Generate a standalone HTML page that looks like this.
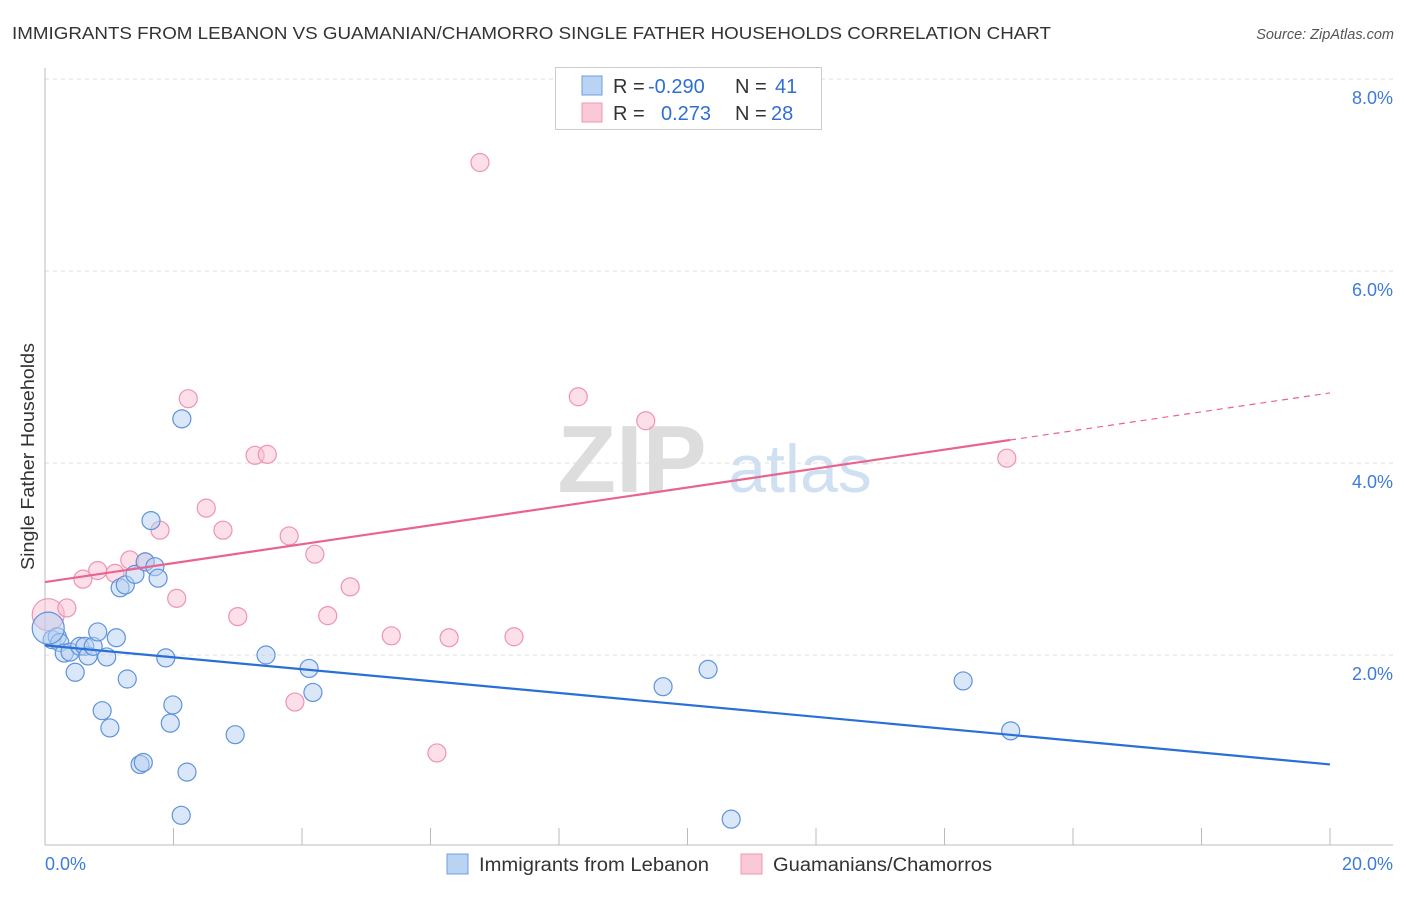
<!DOCTYPE html>
<html><head><meta charset="utf-8"><style>
body{margin:0;background:#fff;font-family:"Liberation Sans",sans-serif;}
svg text{font-family:"Liberation Sans",sans-serif;}
</style></head><body>
<svg id="c" width="1406" height="892">
<text x="12" y="39" font-size="17.5" fill="#333" textLength="1039" lengthAdjust="spacingAndGlyphs">IMMIGRANTS FROM LEBANON VS GUAMANIAN/CHAMORRO SINGLE FATHER HOUSEHOLDS CORRELATION CHART</text>
<text x="1394" y="39" font-size="14.5" fill="#555" font-style="italic" text-anchor="end">Source: ZipAtlas.com</text>
<text transform="translate(34,570) rotate(-90)" font-size="18" fill="#333" textLength="227" lengthAdjust="spacingAndGlyphs">Single Father Households</text>
<text x="632" y="492" font-size="96" fill="#ddd" font-family="Liberation Serif" font-weight="bold" text-anchor="middle">ZIP</text>
<text x="800" y="492" font-size="68" fill="#cfe0f3" text-anchor="middle">atlas</text>
<g id="grid"></g><g id="marks"></g>
<g>
<rect x="555.5" y="67.5" width="266" height="62" fill="#fff" stroke="#ccc"/>
<rect x="582" y="76" width="20" height="19" fill="#b9d3f3" stroke="#6e9de0"/>
<rect x="582" y="103" width="20" height="19" fill="#fac8d7" stroke="#ef9ab3"/>
<text x="613" y="93" font-size="20" fill="#333">R = <tspan x="648" fill="#2f6fd3">-0.290</tspan></text>
<text x="735" y="93" font-size="20" fill="#333">N = <tspan x="775" fill="#2f6fd3">41</tspan></text>
<text x="613" y="120" font-size="20" fill="#333">R = <tspan x="661" fill="#2f6fd3">0.273</tspan></text>
<text x="735" y="120" font-size="20" fill="#333">N = <tspan x="771" fill="#2f6fd3">28</tspan></text>
</g>
<g>
<rect x="447" y="854" width="21" height="20" fill="#b9d3f3" stroke="#6e9de0"/>
<text x="479" y="871" font-size="19" fill="#333" textLength="230" lengthAdjust="spacingAndGlyphs">Immigrants from Lebanon</text>
<rect x="741" y="854" width="21" height="20" fill="#fac8d7" stroke="#ef9ab3"/>
<text x="773" y="871" font-size="19" fill="#333" textLength="219" lengthAdjust="spacingAndGlyphs">Guamanians/Chamorros</text>
</g>
</svg>
<script>
const yTicks=[2,4,6,8];
const xTickLabels=["0.0%","20.0%"];
const blueX=[0.11,0.19,0.23,0.30,0.39,0.47,0.54,0.62,0.67,0.75,0.82,0.89,0.96,1.01,1.11,1.17,1.25,1.28,1.40,1.48,1.53,1.56,1.65,1.71,1.76,1.88,1.95,1.99,2.12,2.13,2.21,2.96,3.44,4.11,4.17,9.62,10.32,10.68,14.29,15.03,0.05];
const blueY=[2.16,2.19,2.13,2.02,2.03,1.82,2.09,2.09,1.99,2.09,2.24,1.42,1.98,1.24,2.18,2.70,2.73,1.75,2.84,0.86,0.88,2.97,3.40,2.92,2.80,1.97,1.29,1.48,0.33,4.46,0.78,1.17,2.00,1.86,1.61,1.67,1.85,0.29,1.73,1.21,2.28];
const pinkX=[0.05,0.34,0.59,0.82,1.09,1.32,1.56,1.79,2.05,2.23,2.51,2.77,3.00,3.27,3.46,3.80,4.20,4.40,4.75,5.39,6.29,6.10,6.77,7.30,8.30,9.35,14.97,3.89];
const pinkY=[2.42,2.49,2.79,2.88,2.85,2.99,2.97,3.30,2.59,4.67,3.53,3.30,2.40,4.08,4.09,3.24,3.05,2.41,2.71,2.20,2.18,0.98,7.13,2.19,4.69,4.44,4.05,1.51];
const blueFit=[2.10,0.86];
const pinkFit=[2.76,4.73];
const X=v=>45+v/20*1285, Y=v=>847-v*96;
const NS="http://www.w3.org/2000/svg";
const grid=document.getElementById('grid'), marks=document.getElementById('marks');
function mk(tag,at,p){const e=document.createElementNS(NS,tag);for(const k in at)e.setAttribute(k,at[k]);p.appendChild(e);return e;}
yTicks.forEach(t=>{
 const l=mk('line',{x1:45,x2:1393,y1:Y(t),y2:Y(t),stroke:'#ddd','stroke-dasharray':'4,4'},grid);
 
 
 const tx=mk('text',{x:1393,y:Y(t)+25,'font-size':18,fill:'#3d7bd8','text-anchor':'end'},grid);
 tx.textContent=t.toFixed(1)+'%';
 
 
});
const ax=mk('line',{x1:45,x2:1393,y1:845,y2:845,stroke:'#bbb'},grid);


const ay=mk('line',{x1:45,x2:45,y1:68,y2:845,stroke:'#bbb'},grid);


for(let i=0;i<=10;i++){
 const t=mk('line',{x1:X(i*2),x2:X(i*2),y1:828,y2:845,stroke:'#bbb'},grid);
 
 
}
[[0,45,'start'],[1,1393,'end']].forEach(([i,x,a])=>{
 const tx=mk('text',{x:x,y:870,'font-size':18,fill:'#3d7bd8','text-anchor':a},grid);
 tx.textContent=xTickLabels[i];
 
 
});
function pts(xs,ys,fill,stroke,name,bigIdx){
 xs.forEach((x,i)=>{
  const r=(i===bigIdx)?16:9;
  const c=mk('circle',{cx:X(x),cy:Y(ys[i]),r:r,fill:fill,'fill-opacity':0.5,stroke:stroke,'stroke-width':1.2},marks);
  
  
 });
}
pts(pinkX,pinkY,'#f9c0d2','#ee94b0','guam-point',0);
pts(blueX,blueY,'#b5d0f2','#5f93dc','lebanon-point',40);
const bl=mk('line',{x1:X(0),y1:Y(blueFit[0]),x2:X(20),y2:Y(blueFit[1]),stroke:'#2a6fd6','stroke-width':2.2},marks);


const pm=pinkFit[0]+(pinkFit[1]-pinkFit[0])*15.02/20;
const pl=mk('line',{x1:X(0),y1:Y(pinkFit[0]),x2:X(15.02),y2:Y(pm),stroke:'#e8648f','stroke-width':2.2},marks);


const pd=mk('line',{x1:X(15.02),y1:Y(pm),x2:X(20),y2:Y(pinkFit[1]),stroke:'#e8648f','stroke-width':1.2,'stroke-dasharray':'6,5'},marks);


</script>
</body></html>
